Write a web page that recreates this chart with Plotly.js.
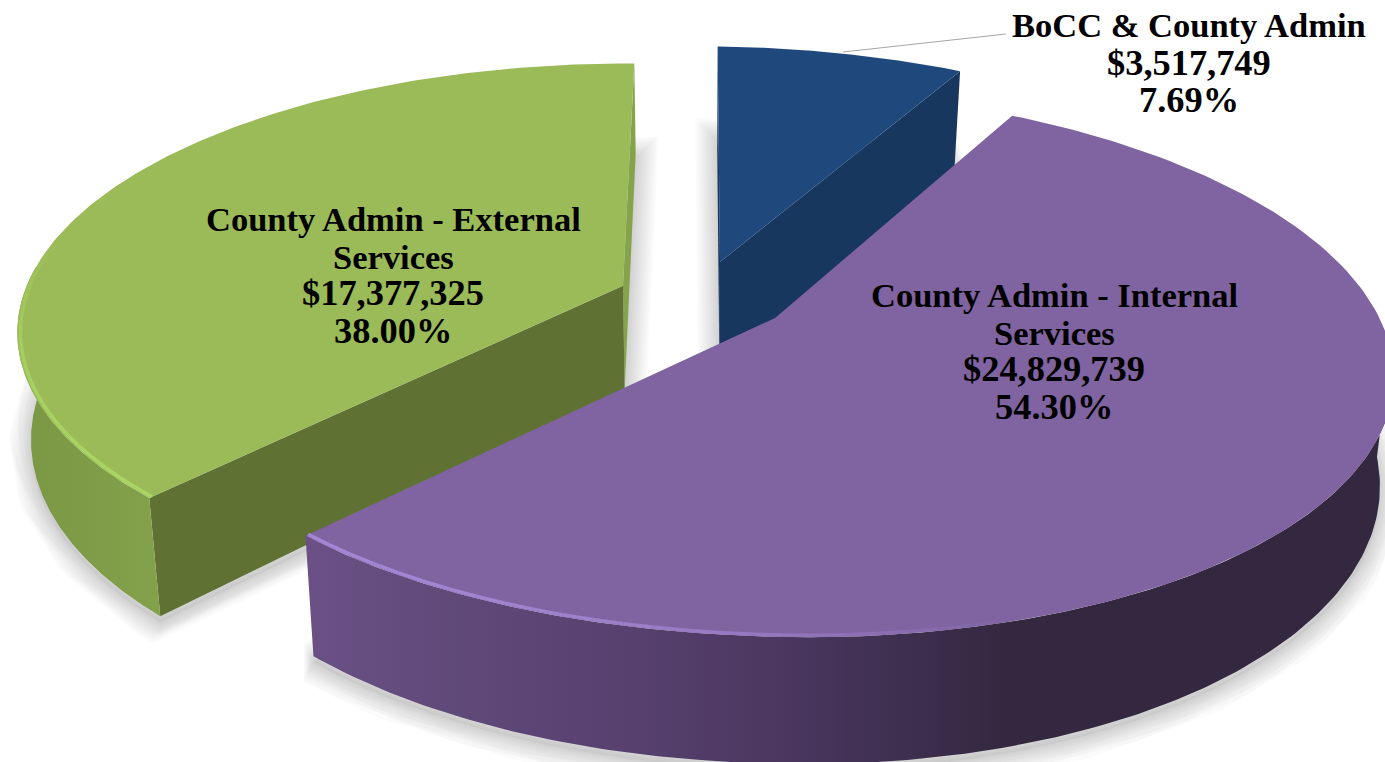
<!DOCTYPE html>
<html><head><meta charset="utf-8">
<script src="https://cdn.plot.ly/plotly-3.0.1.min.js"></script>
<style>html,body{margin:0;padding:0;background:#fff}#c{width:1385px;height:762px}</style>
</head><body><div id="c"></div>
<script>
// ---- data ----
const names = ["BoCC & County Admin", "County Admin - Internal Services", "County Admin - External Services"];
const nameLines = [["BoCC & County Admin"], ["County Admin - Internal", "Services"], ["County Admin - External", "Services"]];
const amounts = [3517749, 24829739, 17377325];

// ---- view of the tilted, exploded disc ----
const cam = {xc: 703, y0: 317, A: 611, B: 266, k: 0.166, H: 106, conv: 0.02, shearL: 0.005, shearR: 0.013};
const offsets = [[0.0288, 0.215], [0.118, 0.0], [-0.1335, 0.118]];   // explosion of each slice on the disc plane
const radii = [[1.01, 1.01, 1.01], [1.008, 0.995, 1.0], [0.993, 0.993, 1.012]];   // left, right, depth
const palette = [
  {top: "#1f497d", wall: "#17375e"},
  {top: "#8063a1", wall: "#4a3660", hi: "#a487d4"},
  {top: "#9bbb59", wall: "#5f7233", hi: "#a9d662", wall2: "#84a34a"}
];

const total = amounts.reduce((a, b) => a + b, 0);
function proj(U, V, z) {
  const w = 1 + cam.k * V;
  let x = cam.xc + cam.A * U / w;
  const sh = (x < cam.xc ? cam.shearL : cam.shearR) * (x - cam.xc);
  let y = cam.y0 - cam.B * V / w + sh + z * cam.H / w;
  x = cam.xc + (x - cam.xc) * (1 - cam.conv * z);
  return [x, y];
}
function pt(i, r, th, z) {
  const s = Math.sin(th), c = Math.cos(th), R = radii[i];
  return proj(offsets[i][0] + r * (s < 0 ? R[0] : R[1]) * s, offsets[i][1] + r * R[2] * c, z);
}
function arc(i, a, b, r, z) {
  const n = 160, out = [];
  for (let j = 0; j <= n; j++) out.push(pt(i, r, a + (b - a) * j / n, z));
  return out;
}
const traces = [];
function poly(pts, fill, extra) {
  traces.push(Object.assign({
    type: "scatter", mode: "lines", x: pts.map(p => p[0]).concat(pts[0][0]), y: pts.map(p => p[1]).concat(pts[0][1]),
    fill: "toself", fillcolor: fill, line: {width: 0}, hoverinfo: "skip"
  }, extra || {}));
}
function mix(c, d, t) {
  const h = s => [1, 3, 5].map(o => parseInt(s.substr(o, 2), 16));
  const a = h(c), b = h(d);
  return "rgb(" + a.map((v, q) => Math.round(v + (b[q] - v) * t)).join(",") + ")";
}
function sideGradient(stops) {
  const x0 = stops[0][0], x1 = stops[stops.length - 1][0];
  return {type: "horizontal", start: x0, stop: x1, colorscale: stops.map(s => [(s[0] - x0) / (x1 - x0), s[1]])};
}

// slice angles, clockwise from the top
const angles = [];
let acc = 0;
amounts.forEach(v => { const a = acc; acc += v / total * 2 * Math.PI; angles.push([a, acc]); });

// soft ground shadows
[0, 1, 2].forEach(i => {
  const [a, b] = angles[i];
  const outline = [pt(i, 0, 0, 1)].concat(arc(i, a, b, 1, 1)).map(p => [p[0], p[1] + 6]);
  for (let w = 4; w <= 44; w += 4) {
    traces.push({type: "scatter", mode: "lines", x: outline.map(p => p[0]).concat(outline[0][0]),
      y: outline.map(p => p[1]).concat(outline[0][1]), line: {width: w, color: "rgba(0,0,0,0.014)"}, hoverinfo: "skip"});
  }
  poly(outline, "rgba(0,0,0,0.04)");
});

// rim highlight, fading along the arc
function rim(i, from, to, color, base) {
  const n = 24;
  for (let j = 0; j < n; j++) {
    const t = j / n;
    const pts = arc(i, from + (to - from) * t, from + (to - from) * (t + 1 / n) , 0.995, 0);
    traces.push({type: "scatter", mode: "lines", x: pts.map(p => p[0]), y: pts.map(p => p[1]),
      line: {width: 3.5, color: mix(color, base, Math.pow(t, 2))}, hoverinfo: "skip"});
  }
}
function ribbon(i, a, b) {
  return arc(i, a, b, 1, 0).concat(arc(i, a, b, 1, 1).reverse());
}
function wedge(i) {
  const [a, b] = angles[i];
  return [pt(i, 0, 0, 0)].concat(arc(i, a, b, 1, 0));
}
function wall(i, th, z) {
  return [pt(i, 0, 0, 0), pt(i, 1, th, 0), pt(i, 1, th, z), pt(i, 0, 0, z)];
}

// external slice (green)
{
  const i = 2, [a, b] = angles[i], p = palette[i];
  poly(wall(i, b, 1), p.wall2);
  poly(wall(i, a, 1), p.wall);
  // visible side: near corner round to the leftmost point
  let best = a, bx = 1e9;
  for (let t = a; t < b; t += 0.005) { const x = pt(i, 1, t, 0)[0]; if (x < bx) { bx = x; best = t; } }
  poly(ribbon(i, a, best + 0.25), "#7f9c48", {fillgradient: sideGradient([[10, "#7a9744"], [80, "#7e9b47"], [165, "#84a24b"]])});
  poly(wedge(i), p.top);
  rim(i, a, best + 0.35, p.hi, p.top);
}
// BoCC slice (blue)
{
  const i = 0, [a, b] = angles[i], p = palette[i];
  poly(wall(i, a, 1.2), p.wall);
  poly(wall(i, b, 1.2), p.wall);
  poly(wedge(i), p.top);
}
// internal slice (purple)
{
  const i = 1, [a, b] = angles[i], p = palette[i];
  let best = a, bx = -1e9;
  for (let t = a; t < b; t += 0.005) { const x = pt(i, 1, t, 0)[0]; if (x > bx) { bx = x; best = t; } }
  poly(ribbon(i, best - 0.1, b), "#4a3660", {fillgradient: sideGradient([[305, "#6b5085"], [450, "#604a7a"], [615, "#58416f"], [780, "#4b3760"], [900, "#3e2f50"], [1010, "#33283f"], [1390, "#33283f"]])});
  poly(wedge(i), p.top);
  rim(i, b, b - 1.05, p.hi, p.top);
}

// leader line of the small slice
traces.push({type: "scatter", mode: "lines", x: [843, 995, 1006], y: [52, 35, 34],
  line: {width: 1, color: "#a6a6a6"}, hoverinfo: "skip"});

// data labels, one annotation per line
const money = v => "$" + v.toLocaleString("en-US");
const pct = v => (v / total * 100).toFixed(2) + "%";
const labelX = [1189, 1054, 393];
const labelY = [[25, 63, 100], [295, 333, 369, 407], [219, 257, 293, 331]];
const annotations = [];
amounts.forEach((v, i) => {
  const n = nameLines[i].length;
  nameLines[i].concat([money(v), pct(v)]).forEach((line, j) => annotations.push({
    xref: "x", yref: "y", x: labelX[i], y: labelY[i][j], xanchor: "center", yanchor: "middle",
    showarrow: false, align: "center", text: "<b>" + line + "</b>",
    font: {family: "'Liberation Serif', 'Times New Roman', serif", size: j < n ? 34.5 : 36.4, color: "#000"}
  }));
});

Plotly.newPlot("c", traces, {
  width: 1385, height: 762, margin: {l: 0, r: 0, t: 0, b: 0},
  paper_bgcolor: "#fff", plot_bgcolor: "#fff", showlegend: false, hovermode: false,
  xaxis: {range: [0, 1385], visible: false, fixedrange: true},
  yaxis: {range: [762, 0], visible: false, fixedrange: true},
  annotations: annotations
}, {displayModeBar: false, staticPlot: true});
</script></body></html>
